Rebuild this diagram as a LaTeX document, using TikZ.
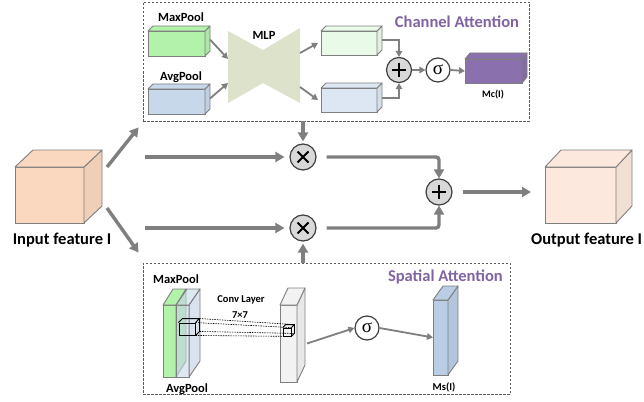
\documentclass[tikz,border=0pt]{standalone}
\usepackage{fontspec}
\setmainfont{Carlito}
\newfontfamily\sigmafont{Liberation Serif}
\usetikzlibrary{arrows.meta,calc}

\definecolor{edgegray}{HTML}{7F7F7F}
\definecolor{linegray}{HTML}{7F7F7F}
\definecolor{dashgray}{HTML}{595959}
\definecolor{circedge}{HTML}{3F3F3F}
\definecolor{circfill}{HTML}{D9D9D9}
\definecolor{titlepurple}{HTML}{8064A2}
\definecolor{inpeach}{HTML}{F9D8BF}
\definecolor{outpeach}{HTML}{FCE8DC}
\definecolor{maxgreen}{HTML}{B2F2AB}
\definecolor{avgblue}{HTML}{C7D8EA}
\definecolor{mlpolive}{HTML}{DDE2CA}
\definecolor{resgreen}{HTML}{EAFAE8}
\definecolor{resblue}{HTML}{DDE7F3}
\definecolor{mcpurple}{HTML}{8A70AC}
\definecolor{slabwhite}{HTML}{F2F2F2}
\definecolor{msblue}{HTML}{B9CDE5}

\tikzset{
  cubefront/.style={draw=edgegray,line width=0.9pt,inner sep=0pt,outer sep=0pt},
  cubeedge/.style={draw=edgegray,line width=0.9pt,line join=round},
  bigarrow/.style={draw=linegray,line width=3.4pt,-{Triangle[length=9pt,width=10pt]}},
  smallarrow/.style={draw=linegray,line width=1.8pt,-{Triangle[length=6pt,width=6.5pt]}},
  dashbox/.style={draw=dashgray,line width=0.8pt,dash pattern=on 2.5pt off 1.5pt,inner sep=0pt},
  opcircle/.style={circle,draw=circedge,line width=1.2pt,inner sep=0pt},
  sigmacircle/.style={circle,draw=circedge,line width=1.2pt,inner sep=0pt,fill=white,
      minimum size=24,font=\sigmafont\fontsize{19}{19}\selectfont},
  plussign/.style={path picture={\draw[line width=2.2pt,black]
      ($(path picture bounding box.center)+(-7,0)$) -- ++(14,0)
      ($(path picture bounding box.center)+(0,-7)$) -- ++(0,14);}},
  timessign/.style={path picture={\draw[line width=2pt,black]
      ($(path picture bounding box.center)+(-5.5,-5.5)$) -- ++(11,11)
      ($(path picture bounding box.center)+(-5.5,5.5)$) -- ++(11,-11);}},
  lbl/.style={font=\fontsize{12.5}{14}\selectfont\bfseries,inner sep=0pt},
  biglbl/.style={font=\fontsize{16.5}{20}\selectfont\bfseries,inner sep=0pt},
  titlelbl/.style={font=\fontsize{16.5}{19}\selectfont\bfseries,text=titlepurple,inner sep=0pt},
}

% \cuboid[options]{name}{x1}{y1}{x2}{y2}{dx}{dy}{fill}: front face plus top and side faces
\newcommand\cuboid[9][]{%
  \node[cubefront,fill=#9,#1,minimum width={#5-#3},minimum height={#6-#4}] (#2) at ({(#3+#5)/2},{(#4+#6)/2}) {};
  \draw[cubeedge,fill=#9!96!black,#1] (#2.north east) -- ++(#7,-#8) -- ($(#2.south east)+(#7,-#8)$) -- (#2.south east) -- cycle;
  \draw[cubeedge,fill=#9,#1] (#2.north west) -- ++(#7,-#8) -- ($(#2.north east)+(#7,-#8)$) -- (#2.north east) -- cycle;
}

\begin{document}
\begin{tikzpicture}[x=1pt,y=-1pt]
\useasboundingbox (0,0) rectangle (644,401);
\clip (0,0) rectangle (644,401);

% ---------- channel attention module ----------
\node[dashbox,minimum width=386,minimum height=119] (chbox) at (336,61.5) {};
\node[titlelbl] (chtitle) at (457,22) {Channel Attention};

\node[lbl] (maxlbl) at (181,17) {MaxPool};
\cuboid{maxbox}{148}{31}{205}{56}{5}{5}{maxgreen}
\node[lbl] (avglbl) at (181,77) {AvgPool};
\cuboid{avgbox}{148}{89}{205}{114}{5}{5}{avgblue}

% MLP bottleneck
\fill[mlpolive] (228,31) -- (263,50) -- (300,28) -- (300,103) -- (263,83) -- (228,103) -- cycle;
\coordinate (mlpinA) at (228,59);
\coordinate (mlpinB) at (228,83);
\coordinate (mlpoutA) at (300,53);
\coordinate (mlpoutB) at (300,87);
\node[lbl] (mlplbl) at (264,35) {MLP};

\cuboid{resA}{321}{31}{377}{55}{5}{5}{resgreen}
\cuboid{resB}{321}{88}{377}{112}{5}{5}{resblue}

\node[opcircle,plussign,fill=circfill,minimum size=25] (chadd) at (399,70) {};
\node[sigmacircle] (chsig) at (438,70) {σ};
\cuboid{mcbox}{465}{59}{522}{83}{5}{6}{mcpurple}
\node[font=\fontsize{10}{12}\selectfont\bfseries,inner sep=0pt] (mclbl) at (493,95) {Mc(I)};

\draw[smallarrow] ($(maxbox.east)+(5,-4)$) -- (mlpinA);
\draw[smallarrow] ($(avgbox.east)+(5,-3)$) -- (mlpinB);
\draw[smallarrow] (mlpoutA) -- ($(resA.west)+(-3,0)$);
\draw[smallarrow] (mlpoutB) -- ($(resB.west)+(-3,0)$);
\draw[smallarrow] ($(resA.east)+(5,-3)$) -| (chadd.north);
\draw[smallarrow] ($(resB.east)+(5,-2)$) -| (chadd.south);
\draw[smallarrow] (chadd.east) -- (chsig.west);
\draw[smallarrow] (chsig.east) -- (mcbox.west);

% ---------- spatial attention module ----------
\node[dashbox,minimum width=367,minimum height=131] (spbox) at (326.5,328.5) {};
\node[titlelbl,anchor=east] (sptitle) at (503,277) {Spatial Attention};

\node[lbl] (smaxlbl) at (176,279) {MaxPool};
\cuboid{smax}{163}{305}{176}{377}{10}{16}{maxgreen}
\cuboid[fill opacity=0.6]{savg}{176}{305}{189}{377}{11}{16}{avgblue}
\node[lbl] (savglbl) at (187,389) {AvgPool};

% 7x7 kernel window and its image on the conv output
\node[draw=black,line width=0.9pt,inner sep=0pt,minimum width=16,minimum height=12] (kern) at (187,329) {};
\draw[black,line width=0.9pt] (kern.north west) -- ++(4,-4) -- ($(kern.north east)+(4,-4)$) -- ($(kern.south east)+(4,-4)$) -- (kern.south east)
  (kern.north east) -- ++(4,-4);

\cuboid{convslab}{280}{305}{297}{382}{8}{17}{slabwhite}
\node[draw=black,line width=0.8pt,inner sep=0pt,minimum width=8,minimum height=8] (tiny) at (287,332) {};
\draw[black,line width=0.8pt] (tiny.north west) -- ++(3,-3) -- ($(tiny.north east)+(3,-3)$) -- ($(tiny.south east)+(3,-3)$) -- (tiny.south east)
  (tiny.north east) -- ++(3,-3);
\draw[black,line width=0.6pt,dash pattern=on 1.5pt off 1pt]
  ($(kern.north east)+(4,-4)$) -- ($(tiny.north east)+(3,-3)$)
  (kern.north east) -- (tiny.north east)
  ($(kern.south east)+(4,-4)$) -- ($(tiny.south east)+(3,-3)$)
  (kern.south east) -- (tiny.south east);

\node[font=\fontsize{10.5}{12}\selectfont\bfseries,inner sep=0pt] (convlbl) at (241,300) {Conv Layer};
\node[font=\fontsize{10.5}{12}\selectfont\bfseries,inner sep=0pt] (convsz) at (240,315) {7×7};

\node[sigmacircle] (spsig) at (367,328) {σ};
\cuboid{msbox}{433}{300}{448}{375}{10}{14}{msblue}
\node[font=\fontsize{10.5}{12}\selectfont\bfseries,inner sep=0pt] (mslbl) at (444,387) {Ms(I)};

\draw[smallarrow] ($(convslab.east)+(10,0)$) -- (spsig.west);
\draw[smallarrow] (spsig.east) -- (msbox.west);

% ---------- main flow ----------
\cuboid{infeat}{15}{167}{84}{223}{18}{17}{inpeach}
\node[biglbl] (inlbl) at (62,240) {Input feature I};
\cuboid{outfeat}{545}{167}{616}{223}{16}{17}{outpeach}
\node[biglbl,anchor=west] (outlbl) at (531,240) {Output feature I};

\node[opcircle,timessign,fill=circfill,minimum size=26] (mulA) at (303,157) {};
\node[opcircle,timessign,fill=circfill,minimum size=26] (mulB) at (303,228) {};
\node[opcircle,plussign,fill=circfill,minimum size=26] (addall) at (439,192) {};

\coordinate (splitA) at (145,157);
\coordinate (splitB) at (145,228);

\draw[bigarrow] ($(infeat.north east)+(23,0)$) -- ($(chbox.south west)+(-4,6)$);
\draw[bigarrow] ($(infeat.south east)+(23,-15)$) -- ($(spbox.north west)+(-4,-10)$);
\draw[bigarrow,shorten >=5pt] (splitA) -- (mulA.west);
\draw[bigarrow,shorten >=5pt] (splitB) -- (mulB.west);
\draw[bigarrow,shorten >=2pt] (mulA |- chbox.south) -- (mulA.north);
\draw[bigarrow,shorten >=2pt] (mulB |- spbox.north) -- (mulB.south);
\draw[bigarrow,rounded corners=3pt,shorten <=10pt] (mulA.east) -| (addall.north);
\draw[bigarrow,rounded corners=3pt,shorten <=10pt] (mulB.east) -| (addall.south);
\draw[bigarrow,shorten <=10pt,shorten >=14pt] (addall.east) -- (addall.east -| outfeat.west);
\end{tikzpicture}
\end{document}
